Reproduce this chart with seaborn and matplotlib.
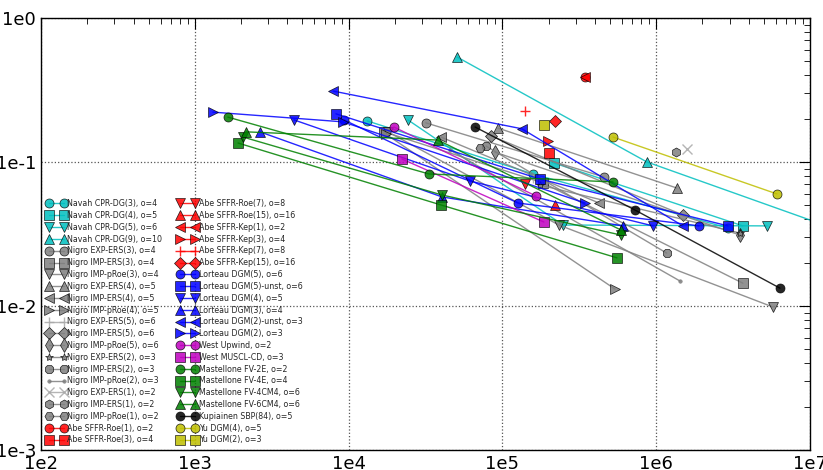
import math
import matplotlib
matplotlib.use("Agg")
import matplotlib.pyplot as plt
import seaborn as sns
from matplotlib.ticker import LogLocator, FuncFormatter, NullFormatter

# ---- Navah CPR-DG (cyan) ----
navah_labels = ["Navah CPR-DG(3), o=4", "Navah CPR-DG(4), o=5",
                "Navah CPR-DG(5), o=6", "Navah CPR-DG(9), o=10"]
navah_markers = ["o", "s", "v", "^"]
navah_x = [[1.32e4, 1.58e5, 2.93e6], [2.16e5, 3.66e6],
           [2.43e4, 2.48e5, 5.25e6], [5.07e4, 8.71e5, 3.85e7]]
navah_y = [[0.193, 0.0826, 0.0348], [0.0985, 0.0360],
           [0.196, 0.0365, 0.0360], [0.536, 0.100, 0.0237]]

# ---- Nigro (grey) ----
nigro_labels = ["Nigro EXP-ERS(3), o=4", "Nigro IMP-ERS(3), o=4",
                "Nigro IMP-pRoe(3), o=4", "Nigro EXP-ERS(4), o=5",
                "Nigro IMP-ERS(4), o=5", "Nigro IMP-pRoe(4), o=5",
                "Nigro EXP-ERS(5), o=6", "Nigro IMP-ERS(5), o=6",
                "Nigro IMP-pRoe(5), o=6", "Nigro EXP-ERS(2), o=3",
                "Nigro IMP-ERS(2), o=3", "Nigro IMP-pRoe(2), o=3",
                "Nigro EXP-ERS(1), o=2", "Nigro IMP-ERS(1), o=2",
                "Nigro IMP-pRoe(1), o=2"]
nigro_markers = ["o", "s", "v", "^", "<", ">", "+", "D", "d", "*",
                 "8", ".", "x", "h", "H"]
nigro_x = [[3.18e4, 4.58e5], [1.70e4, 1.84e5, 3.66e6],
           [1.80e4, 2.33e5, 5.74e6], [9.36e4, 1.36e6],
           [3.99e4, 4.25e5], [1.75e4, 5.40e5],
           [1.58e5], [8.43e4, 1.49e6],
           [8.95e4, 3.51e6], [1.75e5, 3.51e6],
           [7.82e4, 1.17e6], [4.56e4, 1.43e6],
           [1.58e6], [1.35e6], [7.15e4]]
nigro_y = [[0.187, 0.0787], [0.162, 0.0715, 0.0144],
           [0.162, 0.0365, 0.00984], [0.172, 0.0660],
           [0.149, 0.0519], [0.156, 0.0131],
           [0.0774], [0.152, 0.0429],
           [0.117, 0.0311], [0.0692, 0.0321],
           [0.129, 0.0233], [0.121, 0.0149],
           [0.123], [0.117], [0.125]]

# ---- Abe SFFR (red, single runs) ----
abe_labels = ["Abe SFFR-Roe(1), o=2", "Abe SFFR-Roe(3), o=4",
              "Abe SFFR-Roe(7), o=8", "Abe SFFR-Roe(15), o=16",
              "Abe SFFR-Kep(1), o=2", "Abe SFFR-Kep(3), o=4",
              "Abe SFFR-Kep(7), o=8", "Abe SFFR-Kep(15), o=16"]
abe_markers = ["o", "s", "v", "^", "<", ">", "+", "D"]
abe_x = [[3.44e5], [2.01e5], [1.40e5], [2.20e5],
         [3.44e5], [1.98e5], [1.40e5], [2.20e5]]
abe_y = [[0.389], [0.115], [0.0704], [0.0503],
         [0.389], [0.140], [0.226], [0.193]]

# ---- Lorteau DGM (blue) ----
lorteau_labels = ["Lorteau DGM(5), o=6", "Lorteau DGM(5)-unst, o=6",
                  "Lorteau DGM(4), o=5", "Lorteau DGM(3), o=4",
                  "Lorteau DGM(2)-unst, o=3", "Lorteau DGM(2), o=3"]
lorteau_markers = ["o", "s", "v", "^", "<", ">"]
lorteau_x = [[9.33e3, 1.26e5, 1.90e6], [8.28e3, 1.75e5, 2.93e6],
             [4.42e3, 6.15e4, 9.53e5], [2.65e3, 4.05e4, 6.08e5],
             [7.92e3, 1.34e5, 1.49e6], [1.31e3, 9.2e3, 3.44e5]]
lorteau_y = [[0.196, 0.0519, 0.0360], [0.216, 0.0762, 0.0360],
             [0.196, 0.0738, 0.0360], [0.162, 0.0572, 0.0360],
             [0.311, 0.170, 0.0360], [0.222, 0.190, 0.0519]]

# ---- West (magenta) ----
west_labels = ["West Upwind, o=2", "West MUSCL-CD, o=3"]
west_markers = ["o", "s"]
west_x = [[1.97e4, 1.65e5], [2.22e4, 1.86e5]]
west_y = [[0.175, 0.0581], [0.105, 0.0383]]

# ---- Mastellone FV (green) ----
mast_labels = ["Mastellone FV-2E, o=2", "Mastellone FV-4E, o=4",
               "Mastellone FV-4CM4, o=6", "Mastellone FV-6CM4, o=6"]
mast_markers = ["o", "s", "v", "^"]
mast_x = [[1.64e3, 3.33e4, 5.24e5], [1.91e3, 3.99e4, 5.56e5],
          [2.06e3, 4.05e4, 5.90e5], [2.15e3, 3.81e4, 5.90e5]]
mast_y = [[0.205, 0.0826, 0.0727], [0.1355, 0.0503, 0.0216],
          [0.149, 0.0590, 0.0311], [0.162, 0.142, 0.0337]]

# ---- Kupiainen (black) ----
kup_labels = ["Kupiainen SBP(84), o=5"]
kup_markers = ["o"]
kup_x = [[6.64e4, 7.28e5, 6.38e6]]
kup_y = [[0.175, 0.0464, 0.0133]]

# ---- Yu DGM (yellow) ----
yu_labels = ["Yu DGM(4), o=5", "Yu DGM(2), o=3"]
yu_markers = ["o", "s"]
yu_x = [[5.24e5, 6.10e6], [1.86e5]]
yu_y = [[0.149, 0.0600], [0.181]]

groups = [
    (navah_labels, navah_markers, navah_x, navah_y, "#00bfbf"),
    (nigro_labels, nigro_markers, nigro_x, nigro_y, "#7f7f7f"),
    (abe_labels, abe_markers, abe_x, abe_y, "#ff0000"),
    (lorteau_labels, lorteau_markers, lorteau_x, lorteau_y, "#0000ff"),
    (west_labels, west_markers, west_x, west_y, "#bf00bf"),
    (mast_labels, mast_markers, mast_x, mast_y, "#008000"),
    (kup_labels, kup_markers, kup_x, kup_y, "#000000"),
    (yu_labels, yu_markers, yu_x, yu_y, "#bfbf00"),
]

sns.set_style("white")
plt.rcParams["font.family"] = ["DejaVu Sans"]

fig = plt.figure(figsize=(8.23, 4.70), dpi=100)
ax = fig.add_axes([41 / 823, 20 / 470, 769 / 823, 432 / 470])
ax.set_xscale("log")
ax.set_yscale("log")

for labels, markers, xs, ys, color in groups:
    for lab, mk, x, y in zip(labels, markers, xs, ys):
        ms = 6.5
        mec = "k"
        mew = 0.5
        mfc = color
        lc = color
        if mk in ("+", "x"):
            mec = color if color != "#7f7f7f" else "#a8a8a8"
            mew = 1.0
            ms = 7
            if color == "#7f7f7f":
                lc = "#a8a8a8"
        elif mk == "*":
            ms = 6
        elif mk == ".":
            ms = 5
            mec = color
        elif mk == "D":
            ms = 6
        elif mk == "d":
            ms = 7.5
        sns.lineplot(x=x, y=y, ax=ax, marker=mk, color=lc, label=lab,
                     sort=False, estimator=None, linewidth=1.0,
                     markersize=ms, markeredgecolor=mec,
                     markeredgewidth=mew, markerfacecolor=mfc, alpha=0.85)

ax.set_xlim(1e2, 1e7)
ax.set_ylim(1e-3, 1e0)

ax.xaxis.set_major_locator(LogLocator(base=10, numticks=10))
ax.yaxis.set_major_locator(LogLocator(base=10, numticks=10))
ax.xaxis.set_minor_locator(LogLocator(base=10, subs=range(2, 10), numticks=20))
ax.yaxis.set_minor_locator(LogLocator(base=10, subs=range(2, 10), numticks=20))
ax.xaxis.set_minor_formatter(NullFormatter())
ax.yaxis.set_minor_formatter(NullFormatter())
fmt = FuncFormatter(lambda v, p: "1e%d" % round(math.log10(v)))
ax.xaxis.set_major_formatter(fmt)
ax.yaxis.set_major_formatter(fmt)

ax.tick_params(which="both", direction="in", top=True, right=True,
               labelsize=13, colors="k")
ax.tick_params(which="major", length=8, width=0.8)
ax.tick_params(which="minor", length=4, width=0.6)
ax.grid(True, which="major", linestyle=":", color="#555555", linewidth=0.9)
for s in ax.spines.values():
    s.set_color("k")
    s.set_linewidth(1.0)

ax.legend(ncol=2, loc="lower left", bbox_to_anchor=(0, 0), fontsize=5.7,
          frameon=False, numpoints=2, handlelength=2.45, handletextpad=0.17,
          columnspacing=2.0, labelspacing=0.355, borderaxespad=0.3,
          markerscale=1.0)

fig.savefig("out.png", dpi=100)
